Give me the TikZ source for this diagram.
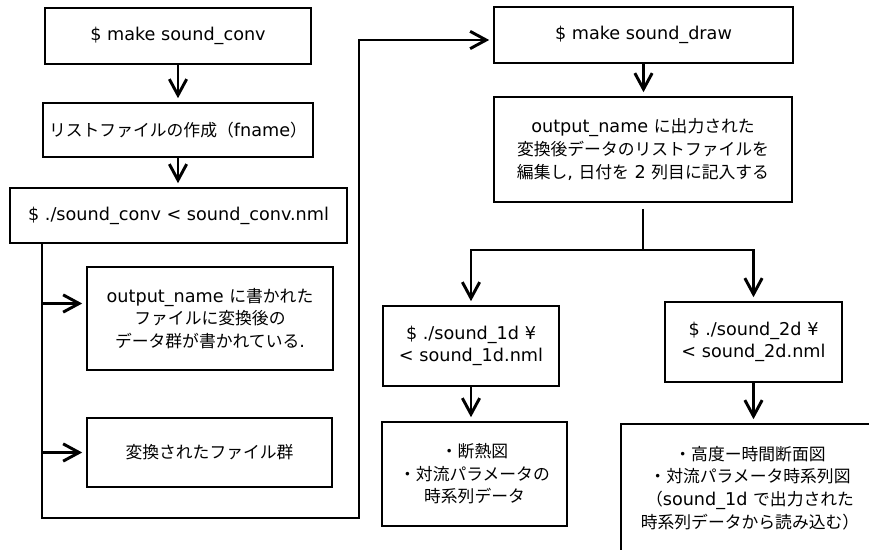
\documentclass[tikz,border=0pt]{standalone}
\usepackage{fontspec}
\setmainfont{DejaVu Sans}[Scale=1.05]
\newfontfamily\jp{Noto Sans CJK JP}
\usetikzlibrary{arrows.meta}
\begin{document}
\begin{tikzpicture}[x=0.75pt,y=-0.75pt,
  box/.style={draw,line width=2.2pt,inner sep=0pt,align=center,
    font=\fontsize{12.6pt}{16.9pt}\selectfont},
  conn/.style={line width=2.2pt},
  arr/.style={conn,-{Straight Barb[length=12pt,width=13pt]},shorten >=2.5pt}]
\useasboundingbox (0,0) rectangle (869,550);
\clip (0,0) rectangle (869,550);
% left column
\node[box,minimum width=199.5pt,minimum height=42pt] (b1) at (178,36) {\$ make sound\_conv};
\node[box,minimum width=202.5pt,minimum height=40.5pt] (b2) at (178,130) {{\jp リストファイルの作成（}fname{\jp ）}};
\node[box,minimum width=252.75pt,minimum height=41.25pt] (b3) at (178.5,215.5) {\$ ./sound\_conv < sound\_conv.nml};
\node[box,minimum width=184.5pt,minimum height=77.25pt] (b4) at (210,318.5) {output\_name {\jp に書かれた}\\{\jp ファイルに変換後の}\\{\jp データ群が書かれている}.};
\node[box,minimum width=183.75pt,minimum height=51.75pt] (b5) at (209.5,452.5) {{\jp 変換されたファイル群}};
% right column
\node[box,minimum width=224.25pt,minimum height=42pt] (b6) at (643.5,35) {\$ make sound\_draw};
\node[box,minimum width=223.5pt,minimum height=78.75pt] (b7) at (643,149.5) {output\_name {\jp に出力された}\\{\jp 変換後データのリストファイルを}\\{\jp 編集し}, {\jp 日付を} 2 {\jp 列目に記入する}};
\node[box,minimum width=132pt,minimum height=60pt] (b8) at (471,346) {\$ ./sound\_1d ¥\\< sound\_1d.nml};
\node[box,minimum width=138.75pt,minimum height=78pt] (b9) at (474.5,474) {{\jp ・断熱図}\\{\jp ・対流パラメータの}\\{\jp 時系列データ}};
\node[box,minimum width=132.75pt,minimum height=60pt] (b10) at (753.5,342) {\$ ./sound\_2d ¥\\< sound\_2d.nml};
\node[box,minimum width=193.5pt,minimum height=96pt] (b11) at (750,488) {{\jp ・高度ー時間断面図}\\{\jp ・対流パラメータ時系列図}\\{\jp （}sound\_1d {\jp で出力された}\\{\jp 時系列データから読み込む）}};
% vertical arrows
\draw[arr] (b1.south) -- (b1.south |- b2.north);
\draw[arr] (b2.south) -- (b2.south |- b3.north);
\draw[arr] (b6.south) -- (b6.south |- b7.north);
\draw[arr] (b8.south) -- (b8.south |- b9.north);
\draw[arr] (b10.south) -- (b10.south |- b11.north);
% branch
\coordinate (br) at (643,250);
\draw[conn,shorten <=4pt] (b7.south) -- (br);
\draw[arr] (br) -| (b8.north);
\draw[arr] (br) -| (b10.north);
% loop
\coordinate (lb) at (42,518);
\coordinate (rb) at (359,518);
\coordinate (b6in) at ([yshift=-3.75pt]b6.west);
\coordinate (b4in) at ([yshift=11.25pt]b4.west);
\draw[arr] (b3.south -| lb) -- (lb) -- (rb) |- (b6in);
\draw[arr] (b4in -| lb) -- (b4in);
\draw[arr] (b5.west -| lb) -- (b5.west);
\end{tikzpicture}
\end{document}
